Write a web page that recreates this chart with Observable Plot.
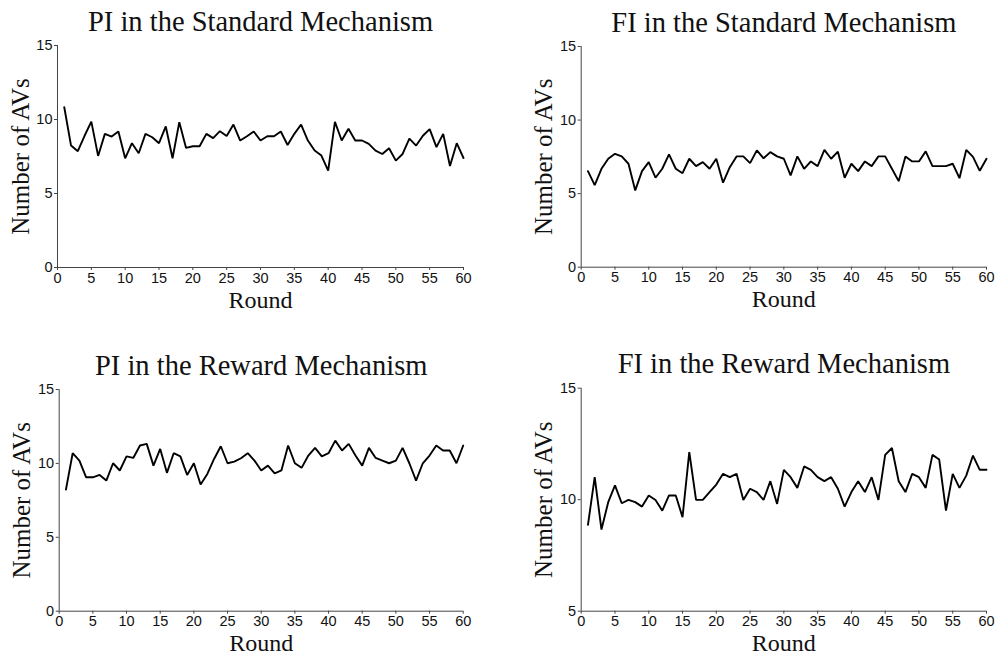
<!DOCTYPE html>
<html>
<head>
<meta charset="utf-8">
<script src="https://cdn.jsdelivr.net/npm/d3@7"></script>
<script src="https://cdn.jsdelivr.net/npm/@observablehq/plot@0.6"></script>
<style>
  html, body { margin: 0; padding: 0; background: #fff; }
  #root { position: relative; width: 996px; height: 657px; overflow: hidden; background: #fff; }
  .panel { position: absolute; }
  .panel svg { overflow: visible; background: transparent; }
</style>
</head>
<body>
<div id="root"></div>
<script>
const rounds = d3.range(1, 61);

const piStandard = [10.83, 8.24, 7.86, 8.9, 9.86, 7.54, 9.03, 8.85, 9.19, 7.38,
  8.4, 7.72, 9.03, 8.8, 8.4, 9.53, 7.38, 9.82, 8.08, 8.19,
  8.19, 9.03, 8.74, 9.21, 8.89, 9.66, 8.58, 8.87, 9.19, 8.58,
  8.87, 8.87, 9.19, 8.28, 9.03, 9.66, 8.58, 7.9, 7.56, 6.55,
  9.84, 8.58, 9.37, 8.58, 8.58, 8.35, 7.9, 7.67, 8.06, 7.22,
  7.67, 8.71, 8.24, 8.9, 9.35, 8.13, 9.03, 6.86, 8.4, 7.4];

const fiStandard = [6.53, 5.58, 6.69, 7.37, 7.71, 7.53, 7.03, 5.22, 6.53, 7.14,
  6.08, 6.69, 7.67, 6.69, 6.39, 7.37, 6.87, 7.14, 6.69, 7.37,
  5.74, 6.8, 7.53, 7.53, 7.07, 7.94, 7.4, 7.82, 7.53, 7.37,
  6.24, 7.53, 6.69, 7.19, 6.87, 7.97, 7.37, 7.85, 6.08, 7.03,
  6.53, 7.19, 6.87, 7.53, 7.53, 6.69, 5.85, 7.53, 7.19, 7.19,
  7.87, 6.87, 6.87, 6.87, 7.03, 6.05, 7.97, 7.5, 6.55, 7.37];

const piReward = [8.23, 10.69, 10.19, 9.06, 9.06, 9.22, 8.84, 10.01, 9.52, 10.48,
  10.37, 11.21, 11.32, 9.85, 10.98, 9.36, 10.69, 10.48, 9.22, 10.01,
  8.57, 9.29, 10.3, 11.16, 10.01, 10.12, 10.35, 10.69, 10.19, 9.52,
  9.85, 9.33, 9.52, 11.21, 10.01, 9.7, 10.53, 11.05, 10.48, 10.69,
  11.54, 10.87, 11.32, 10.53, 9.85, 11.05, 10.37, 10.19, 10.01, 10.19,
  11.05, 10.01, 8.84, 10.01, 10.53, 11.21, 10.87, 10.87, 10.01, 11.21];

const fiReward = [8.87, 11.01, 8.66, 9.89, 10.64, 9.84, 9.99, 9.89, 9.69, 10.19,
  9.99, 9.51, 10.19, 10.19, 9.22, 12.13, 9.99, 9.99, 10.34, 10.68,
  11.16, 11.01, 11.16, 9.99, 10.49, 10.34, 9.99, 10.83, 9.81, 11.34,
  11.01, 10.53, 11.49, 11.34, 11.01, 10.83, 11.01, 10.49, 9.69, 10.34,
  10.83, 10.34, 11.01, 9.99, 12.01, 12.32, 10.83, 10.34, 11.16, 11.01,
  10.53, 12.01, 11.8, 9.51, 11.16, 10.53, 11.08, 11.98, 11.34, 11.34];

const titles = ["PI in the Standard Mechanism", "FI in the Standard Mechanism",
                "PI in the Reward Mechanism", "FI in the Reward Mechanism"];
const yDomains = [[0, 15], [0, 15], [0, 15], [5, 15]];
const yTicks = [[0, 5, 10, 15], [0, 5, 10, 15], [0, 5, 10, 15], [5, 10, 15]];
const xTicks = d3.range(0, 61, 5);
const xLabel = "Round";
const yLabel = "Number of AVs";

const series = [piStandard, fiStandard, piReward, fiReward];

// layout per panel: left, top, width, height, margins
const layouts = [
  {left: 0,   top: 0,   width: 498, height: 328, ml: 57,   mr: 35, mt: 45, mb: 61},
  {left: 500, top: 0,   width: 496, height: 328, ml: 80.7, mr: 10, mt: 46, mb: 61.3},
  {left: 0,   top: 329, width: 498, height: 328, ml: 58.7, mr: 35.3, mt: 60, mb: 46.3},
  {left: 500, top: 329, width: 496, height: 328, ml: 80.7, mr: 10, mt: 58.7, mb: 46.3}
];

const serif = "'Times New Roman', 'Liberation Serif', Times, serif";
const sans = "Arial, 'Liberation Sans', Helvetica, sans-serif";
const root = document.getElementById("root");

series.forEach((vals, i) => {
  const L = layouts[i];
  const data = rounds.map((r, j) => ({round: r, value: vals[j]}));
  const yMin = yDomains[i][0];
  const chart = Plot.plot({
    width: L.width,
    height: L.height,
    marginLeft: L.ml,
    marginRight: L.mr,
    marginTop: L.mt,
    marginBottom: L.mb,
    style: {background: "transparent", overflow: "visible"},
    x: {domain: [0, 60]},
    y: {domain: yDomains[i]},
    marks: [
      Plot.axisX({ticks: xTicks, tickSize: 3, tickPadding: 2, label: null,
        fontSize: 14.5, fontFamily: sans, color: "#111", stroke: "#444"}),
      Plot.axisY({ticks: yTicks[i], tickSize: 3, tickPadding: 2, label: null,
        fontSize: 14.5, fontFamily: sans, color: "#111", stroke: "#444"}),
      Plot.ruleX([0], {stroke: "#444", strokeWidth: 1}),
      Plot.ruleY([yMin], {stroke: "#444", strokeWidth: 1}),
      Plot.line(data, {x: "round", y: "value", stroke: "#000", strokeWidth: 1.9, strokeLinejoin: "miter"}),
      Plot.text([titles[i]], {text: d => d, frameAnchor: "top", textAnchor: "middle", dy: -15, lineAnchor: "bottom",
        fontSize: 28.5, fontFamily: serif, fill: "#111"}),
      Plot.text([xLabel], {text: d => d, frameAnchor: "bottom", textAnchor: "middle", dy: 40, lineAnchor: "bottom",
        fontSize: 24, fontFamily: serif, fill: "#111"}),
      Plot.text([yLabel], {text: d => d, frameAnchor: "left", textAnchor: "middle", dx: -29, rotate: -90, lineAnchor: "bottom",
        fontSize: 25, fontFamily: serif, fill: "#111"})
    ]
  });
  const div = document.createElement("div");
  div.className = "panel";
  div.style.left = L.left + "px";
  div.style.top = L.top + "px";
  div.appendChild(chart);
  root.appendChild(div);
});
</script>
</body>
</html>
